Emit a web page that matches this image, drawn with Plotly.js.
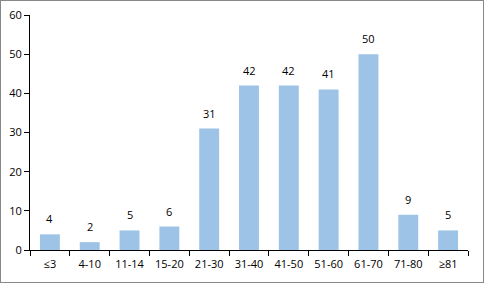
<!DOCTYPE html>
<html><head><meta charset="utf-8">
<script src="https://cdn.plot.ly/plotly-3.0.1.min.js"></script>
<style>html,body{margin:0;padding:0;background:#fff;}
#wrap{position:absolute;left:0;top:0;width:484px;height:283px;box-sizing:border-box;border:1px solid #888;}
#chart{position:absolute;left:0;top:0;width:484px;height:283px;}
</style></head><body>
<div id="chart"></div><div id="wrap"></div>
<script>
const categories = ["≤3","4-10","11-14","15-20","21-30","31-40","41-50","51-60","61-70","71-80","≥81"];
const values = [4,2,5,6,31,42,42,41,50,9,5];
const yTicks = [0,10,20,30,40,50,60];
Plotly.newPlot('chart',[{
  type:'bar', x:categories, y:values,
  marker:{color:'#9DC3E6'}, hoverinfo:'none'
}],{
  width:484,height:283,
  margin:{l:30,r:16,t:15,b:33},
  paper_bgcolor:'#fff',plot_bgcolor:'#fff',
  font:{family:'Open Sans, sans-serif',size:11,color:'#000'},
  bargap:0.5,showlegend:false,
  annotations: categories.map((c,i)=>({x:c,y:values[i],text:String(values[i]),showarrow:false,yanchor:'bottom',yshift:6,font:{size:11,color:'#000'}})),
  xaxis:{type:'category',tickangle:0,ticklabelstandoff:4,showline:true,linecolor:'#000',linewidth:1,ticks:'outside',tickson:'boundaries',ticklen:5,tickcolor:'#000',showgrid:false,zeroline:false,fixedrange:true},
  yaxis:{range:[0,60],tickvals:yTicks,showline:true,linecolor:'#000',linewidth:1,ticks:'outside',ticklen:5,tickcolor:'#000',showgrid:false,zeroline:false,fixedrange:true}
},{displayModeBar:false,staticPlot:true});
</script></body></html>
